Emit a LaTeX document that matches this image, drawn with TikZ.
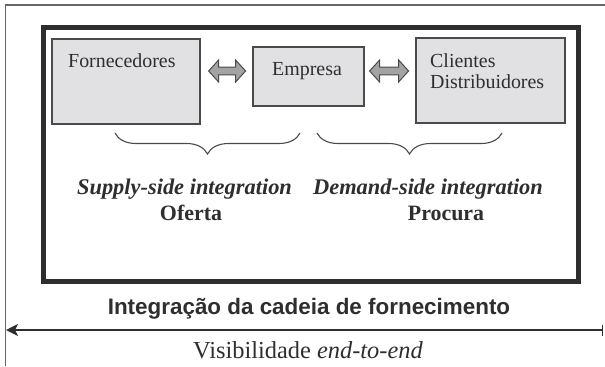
\documentclass[tikz,border=0pt]{standalone}
\usepackage{fontspec}
\setmainfont{Liberation Serif}
\newfontfamily\arialfont{Liberation Sans}
\usetikzlibrary{arrows.meta,decorations.pathreplacing,calc}
\definecolor{ink}{HTML}{2E2E2E}
\definecolor{frameline}{HTML}{666666}
\definecolor{boxfill}{HTML}{E1E1E3}
\definecolor{boxline}{HTML}{4A4A4A}
\definecolor{arrfill}{HTML}{A3A3A3}
\begin{document}
\begin{tikzpicture}[x=1bp,y=-1bp,
  entity/.style={draw=boxline, fill=boxfill, line width=1.2bp, inner sep=0pt},
  boxtext/.style={inner sep=0pt, text=ink, font=\fontsize{20}{20}\selectfont},
  sidetext/.style={inner sep=0pt, text=ink, font=\fontsize{22.5}{22.5}\selectfont\bfseries\itshape},
  sidename/.style={inner sep=0pt, text=ink, font=\fontsize{22}{22}\selectfont\bfseries},
  fatarrow/.style={draw=boxline, fill=arrfill, line width=1bp, line join=miter},
  bracestyle/.style={draw=boxline, line width=1.1bp, decorate,
    decoration={brace, amplitude=21bp, aspect=0.5}},
  pics/dblarrow/.style={code={
    \draw[fatarrow] (0,0) -- (10,-11) -- (10,-3.8) -- (#1-10,-3.8) -- (#1-10,-11) -- (#1,0)
      -- (#1-10,11) -- (#1-10,3.8) -- (10,3.8) -- (10,11) -- cycle;}}]
\useasboundingbox (0,0) rectangle (605,366);
% outer frame
\draw[frameline, line width=1.2bp] (5.5,366) -- (5.5,5) -- (605,5);
% thick inner frame
\draw[ink, line width=5bp] (43,27) rectangle (578,281);
% boxes
\node[entity, minimum width=148bp, minimum height=85bp] (forn) at (126,81.5) {};
\node[entity, minimum width=111bp, minimum height=59bp] (emp) at (308.5,76.5) {};
\node[entity, minimum width=149bp, minimum height=85bp] (cli) at (490.5,80.5) {};
\node[boxtext, anchor=base west] (tforn) at (68,67) {Fornecedores};
\node[boxtext, anchor=base] (temp) at (307,75.5) {Empresa};
\node[boxtext, anchor=base west] (tcli1) at (430,67) {Clientes};
\node[boxtext, anchor=base west] (tcli2) at (430,88) {Distribuidores};
% double arrows
\pic at ($(forn.east |- 0,71)+(8,0)$) {dblarrow=37};
\pic at ($(emp.east |- 0,71)+(5,0)$) {dblarrow=39};
% braces
\draw[bracestyle] (300,133) -- (115,133);
\draw[bracestyle] (502,133) -- (317,133);
% side labels
\node[sidetext, anchor=base] (sup) at (184.5,194) {Supply-side integration};
\node[sidename, anchor=base] (ofe) at (191,220) {Oferta};
\node[sidetext, anchor=base] (dem) at (428,194) {Demand-side integration};
\node[sidename, anchor=base] (pro) at (446,220) {Procura};
% bottom
\node[inner sep=0pt, text=ink, anchor=base, font=\arialfont\fontsize{22.5}{22.5}\selectfont\bfseries] (integ) at (309,314) {Integração da cadeia de fornecimento};
\coordinate (vl) at (6,330);
\coordinate (vr) at (603,330);
\draw[ink, line width=2.2bp, {Stealth[length=12bp,width=12bp,inset=3bp]}-{Bar[width=11bp,line width=1.5bp]}] (vl) -- (vr);
\node[inner sep=0pt, text=ink, anchor=base, font=\fontsize{24.5}{24.5}\selectfont] (vis) at (308,358) {Visibilidade \textit{end-to-end}};
\end{tikzpicture}
\end{document}
